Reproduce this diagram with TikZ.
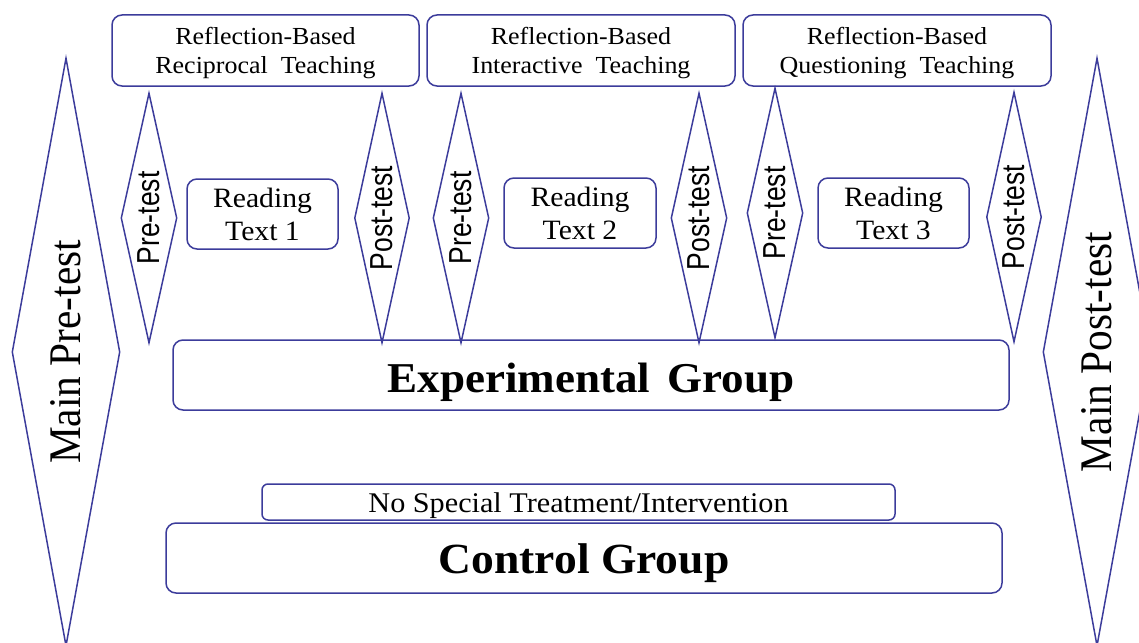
\documentclass[tikz,border=0pt]{standalone}
\usepackage{fontspec}
\setmainfont{Liberation Serif}[FakeStretch=1.06]
\newfontfamily\sansw{Liberation Sans}
\usetikzlibrary{shapes.geometric}
\definecolor{edgeblue}{RGB}{60,60,155}
\tikzset{
  box/.style={draw=edgeblue, line width=1.5pt, rounded corners=10pt, inner sep=0pt, align=center, text=black},
  topbox/.style={box, minimum width=307pt, minimum height=71pt, text depth=0pt, font=\fontsize{24.5}{28.3}\selectfont},
  readbox/.style={box, minimum width=151pt, minimum height=70pt, font=\fontsize{28}{33}\selectfont},
  dia/.style={draw=edgeblue, line width=1.5pt, diamond, inner sep=0pt, shape aspect=0.22},
  smalldia/.style={dia, minimum width=56pt, minimum height=250pt, font=\sansw\fontsize{26.5}{30}\selectfont},
  maindia/.style={dia, minimum width=108pt, minimum height=588pt, shape aspect=0.18, font=\fontsize{39}{44}\selectfont},
}
\newcommand{\vtext}[2]{\rotatebox{90}{\scalebox{1}[#1]{#2}}}
\begin{document}
\begin{tikzpicture}[x=1pt,y=-1pt]
\useasboundingbox (0,0) rectangle (1139,642);
\clip (0,0) rectangle (1139,642);
% top boxes
\node[topbox] (t1) at (265.5,50.5) {Reflection-Based\\Reciprocal\ \ Teaching};
\node[topbox, minimum width=308pt] (t2) at (581,50.5) {Reflection-Based\\Interactive\ \ Teaching};
\node[topbox, minimum width=308pt] (t3) at (897,50.5) {Reflection-Based\\Questioning\ \ Teaching};
% reading boxes
\node[readbox] (r1) at (262.5,214) {Reading\\Text 1};
\node[readbox, minimum width=152pt] (r2) at (580,213) {Reading\\Text 2};
\node[readbox] (r3) at (893.5,213) {Reading\\Text 3};
% small diamonds
\node[smalldia] (pre1) at (149,218) {\vtext{1.2}{Pre-test}};
\node[smalldia, minimum width=55pt] (post1) at (382,218) {\vtext{1.2}{Post-test}};
\node[smalldia] (pre2) at (461,218) {\vtext{1.2}{Pre-test}};
\node[smalldia] (post2) at (699,218) {\vtext{1.2}{Post-test}};
\node[smalldia] (pre3) at (775,213) {\vtext{1.2}{Pre-test}};
\node[smalldia, minimum width=55pt] (post3) at (1014,217) {\vtext{1.2}{Post-test}};
% main diamonds
\node[maindia] (mpre) at (66,352) {\vtext{1.16}{Main Pre-test}};
\node[maindia] (mpost) at (1097,352) {\vtext{1.16}{Main Post-test}};
% groups
\node[box, minimum width=836pt, minimum height=70pt, text height=34pt, text depth=0pt,
      font=\fontsize{42.5}{46}\selectfont\bfseries] (exp) at (591,375) {Experimental\hspace{0.4em}Group};
\node[box, rounded corners=6pt, minimum width=633pt, minimum height=36pt, text height=20pt, text depth=0pt,
      font=\fontsize{28.5}{32}\selectfont] (nst) at (578.5,502) {No Special Treatment/Intervention};
\node[box, minimum width=836pt, minimum height=70pt, text height=30pt, text depth=0pt,
      font=\fontsize{43}{46}\selectfont\bfseries] (ctl) at (584,558) {Control Group};
\end{tikzpicture}
\end{document}
